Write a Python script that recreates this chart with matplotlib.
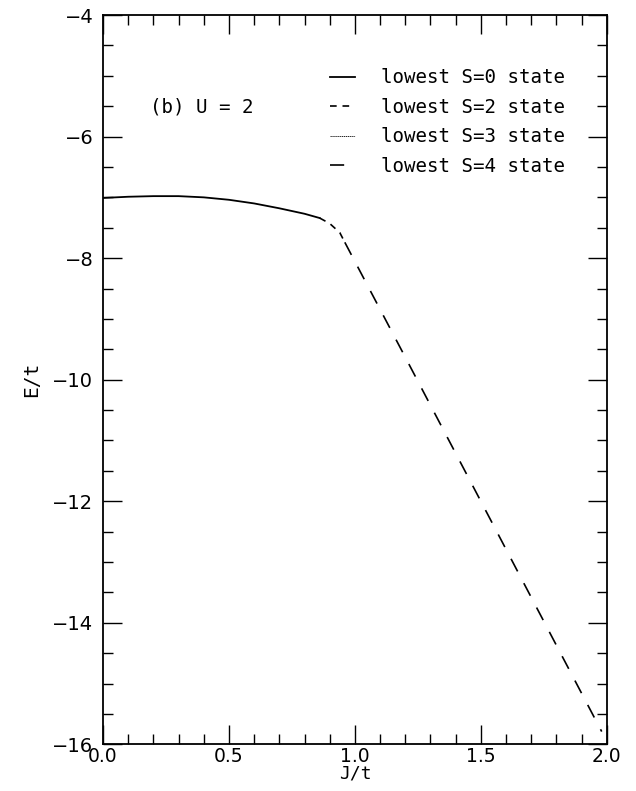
import matplotlib
matplotlib.use("Agg")
import matplotlib.pyplot as plt
from matplotlib.ticker import MultipleLocator

# Ground-state energy branches, E/t versus J/t, for U = 2
j_s0 = [0.0, 0.1, 0.2, 0.3, 0.4, 0.5, 0.6, 0.7, 0.8, 0.86]
e_s0 = [-7.01, -6.99, -6.98, -6.98, -7.00, -7.04, -7.10, -7.18, -7.27, -7.34]

j_s2 = [0.86, 0.90, 0.94, 0.96]
e_s2 = [-7.34, -7.43, -7.58, -7.74]

j_s3 = []
e_s3 = []

j_s4 = [0.96, 1.20, 1.50, 1.80, 1.98]
e_s4 = [-7.74, -9.63, -12.00, -14.37, -15.79]

labels = ["lowest S=0 state", "lowest S=2 state",
          "lowest S=3 state", "lowest S=4 state"]

mono = ["DejaVu Sans Mono"]

fig = plt.figure(figsize=(6.36, 7.91), dpi=100)
ax = fig.add_axes([0.162, 0.059, 0.792, 0.922])

ax.plot(j_s0, e_s0, color="black", lw=1.3, ls="-", label=labels[0])
ax.plot(j_s2, e_s2, color="black", lw=1.2, ls=(0, (4.0, 3.5)), label=labels[1])
ax.plot(j_s3, e_s3, color="black", lw=0.6, ls=(0, (1.5, 0.8)), label=labels[2])
ax.plot(j_s4, e_s4, color="black", lw=1.2, ls=(0, (8.5, 8.0)), label=labels[3])

ax.set_xlim(0.0, 2.0)
ax.set_ylim(-16, -4)
ax.xaxis.set_major_locator(MultipleLocator(0.5))
ax.xaxis.set_minor_locator(MultipleLocator(0.1))
ax.yaxis.set_major_locator(MultipleLocator(2))
ax.yaxis.set_minor_locator(MultipleLocator(0.5))
ax.xaxis.set_major_formatter(matplotlib.ticker.FormatStrFormatter("%.1f"))
ax.yaxis.set_major_formatter(matplotlib.ticker.FuncFormatter(lambda v, p: "\u2212%d" % abs(v)))

ax.tick_params(which="both", direction="in", top=True, right=True, width=1.0, color="black")
ax.tick_params(which="major", length=14, pad=7, labelsize=14)
ax.tick_params(axis="x", which="major", pad=2, labelsize=13.5)
ax.tick_params(which="minor", length=7)
for lab in ax.get_xticklabels() + ax.get_yticklabels():
    lab.set_family("DejaVu Sans")
for sp in ax.spines.values():
    sp.set_linewidth(1.3)

ax.set_xlabel("J/t", family=mono, fontsize=13, labelpad=-1)
ax.set_ylabel("E/t", family=mono, fontsize=14, labelpad=8)

ax.text(0.093, 0.874, "(b) U = 2", transform=ax.transAxes, family=mono,
        fontsize=13.8, va="center", ha="left")

leg = ax.legend(loc="upper left", bbox_to_anchor=(0.45, 0.927), frameon=False,
                prop={"family": mono, "size": 13.8}, handlelength=1.3,
                handletextpad=1.4, labelspacing=0.55, borderaxespad=0,
                borderpad=0)

fig.savefig("out.png", dpi=100)
